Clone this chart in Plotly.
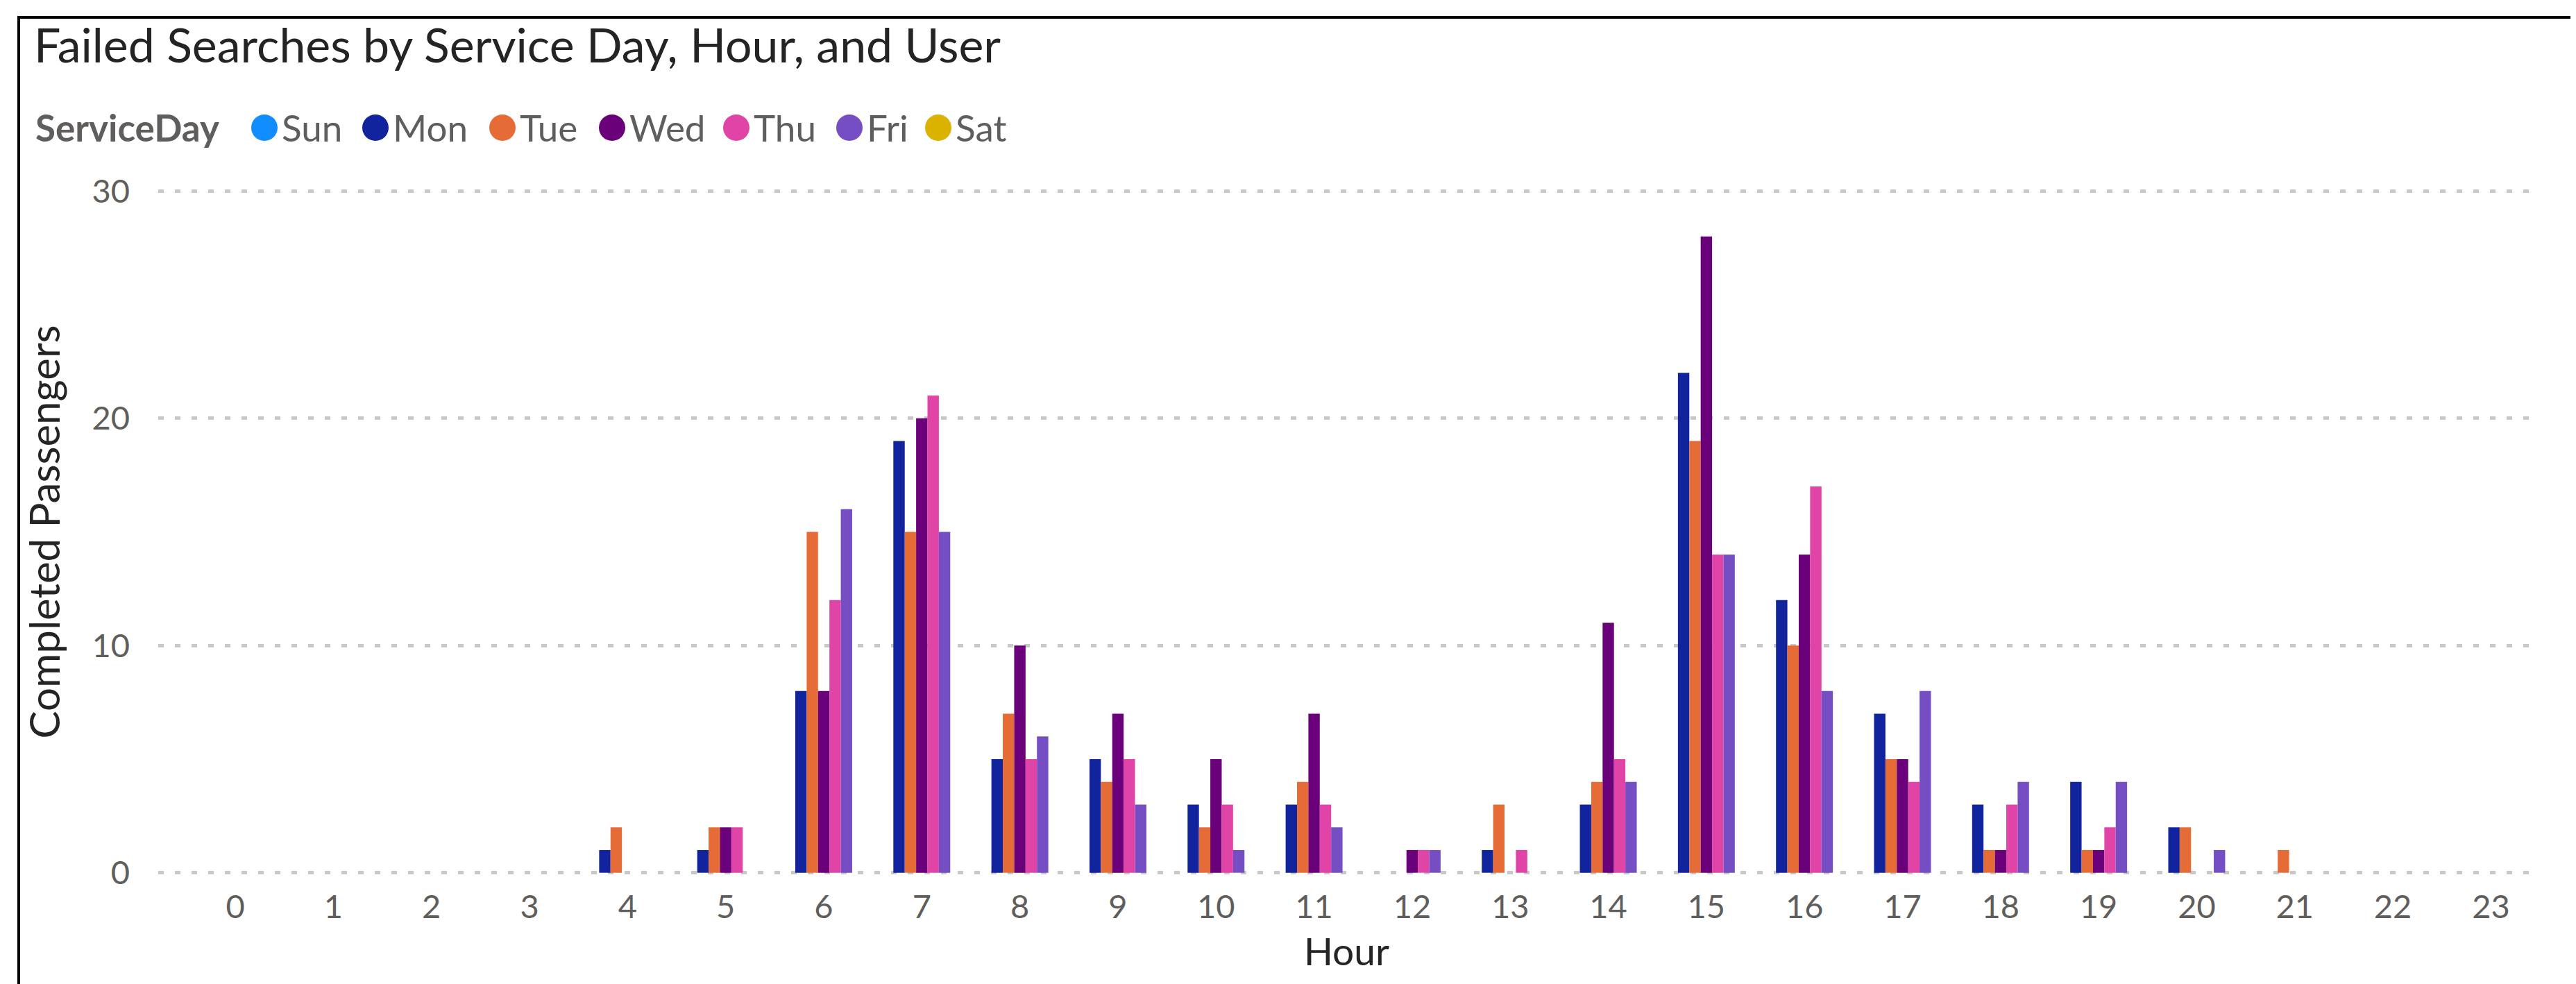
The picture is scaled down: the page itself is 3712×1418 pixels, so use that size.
import plotly.graph_objects as go

# ---------------- data ----------------
hours = [0, 1, 2, 3, 4, 5, 6, 7, 8, 9, 10, 11, 12, 13, 14, 15, 16, 17, 18, 19, 20, 21, 22, 23]
hour_labels = ["0", "1", "2", "3", "4", "5", "6", "7", "8", "9", "10", "11",
               "12", "13", "14", "15", "16", "17", "18", "19", "20", "21", "22", "23"]

legend_days = ["Sun", "Mon", "Tue", "Wed", "Thu", "Fri", "Sat"]
legend_colors = ["#118DFF", "#12239E", "#E66C37", "#6B007B", "#E044A7", "#744EC2", "#D9B300"]

y_ticks = [0, 10, 20, 30]

N = None
mon = [N, N, N, N, 1, 1, 8, 19, 5, 5, 3, 3, N, 1, 3, 22, 12, 7, 3, 4, 2, N, N, N]
tue = [N, N, N, N, 2, 2, 15, 15, 7, 4, 2, 4, N, 3, 4, 19, 10, 5, 1, 1, 2, 1, N, N]
wed = [N, N, N, N, N, 2, 8, 20, 10, 7, 5, 7, 1, N, 11, 28, 14, 5, 1, 1, N, N, N, N]
thu = [N, N, N, N, N, 2, 12, 21, 5, 5, 3, 3, 1, 1, 5, 14, 17, 4, 3, 2, N, N, N, N]
fri = [N, N, N, N, N, N, 16, 15, 6, 3, 1, 2, 1, N, 4, 14, 8, 8, 4, 4, 1, N, N, N]

series = [("Mon", mon), ("Tue", tue), ("Wed", wed), ("Thu", thu), ("Fri", fri)]
color_of = dict(zip(legend_days, legend_colors))

# ---------------- layout geometry (pixels) ----------------
W, H = 3712, 1418
ML, MR, MT, MB = 220, 67, 266, 167
PW, PH = W - ML - MR, H - MT - MB


def px_x(px):
    return (px - ML) / PW


def px_y(py):
    return 1 - (py - MT) / PH


FONT = "Segoe UI, Lato, sans-serif"
GRAY = "#605E5C"
DARK = "#252423"

fig = go.Figure()
for name, vals in series:
    fig.add_trace(go.Bar(
        x=hours, y=vals, name=name,
        marker=dict(color=color_of[name], line=dict(width=0)),
        showlegend=False,
    ))

# ---------------- manual legend (Power BI style) ----------------
legend_centers = [373, 533, 716, 874, 1053, 1216, 1344]
legend_y = 176
shapes = []
annotations = [dict(
    x=px_x(41), y=px_y(legend_y), xref="paper", yref="paper",
    xanchor="left", yanchor="middle", showarrow=False,
    text="<b>ServiceDay</b>", font=dict(family=FONT, size=53, color=GRAY),
)]
for day, col, cx in zip(legend_days, legend_colors, legend_centers):
    shapes.append(dict(
        type="circle", xref="paper", yref="paper",
        xsizemode="pixel", ysizemode="pixel",
        xanchor=px_x(cx), yanchor=px_y(legend_y),
        x0=-19, x1=19, y0=-19, y1=19,
        fillcolor=col, line=dict(width=0),
    ))
    annotations.append(dict(
        x=px_x(cx + 23), y=px_y(legend_y), xref="paper", yref="paper",
        xanchor="left", yanchor="middle", showarrow=False,
        text=day, font=dict(family=FONT, size=53, color=GRAY),
    ))

# frame (top and left edges visible)
shapes.append(dict(type="line", xref="paper", yref="paper",
                   x0=px_x(17), x1=px_x(W + 10), y0=px_y(17), y1=px_y(17),
                   line=dict(color="#000000", width=4)))
shapes.append(dict(type="line", xref="paper", yref="paper",
                   x0=px_x(19), x1=px_x(19), y0=px_y(15), y1=px_y(H + 10),
                   line=dict(color="#000000", width=4)))

fig.update_layout(
    width=W, height=H,
    margin=dict(l=ML, r=MR, t=MT, b=MB, pad=0),
    paper_bgcolor="white", plot_bgcolor="white",
    barmode="group", bargap=0.42, bargroupgap=0,
    title=dict(text="Failed Searches by Service Day, Hour, and User",
               x=41 / W, xref="container", xanchor="left",
               y=1 - 58 / H, yref="container", yanchor="middle",
               font=dict(family=FONT, size=68, color=DARK)),
    font=dict(family=FONT, color=GRAY),
    shapes=shapes, annotations=annotations,
    xaxis=dict(
        range=[-0.786, 23.45], tickmode="array", tickvals=hours, ticktext=hour_labels,
        showgrid=False, zeroline=False, showline=False, ticks="",
        tickfont=dict(family=FONT, size=47, color=GRAY), ticklabelstandoff=16,
        title=dict(text="Hour", font=dict(family=FONT, size=55, color=DARK), standoff=20),
    ),
    yaxis=dict(
        range=[-0.04, 30.04], tickmode="array", tickvals=y_ticks,
        showgrid=True, gridcolor="#C8C8C8", gridwidth=5, griddash="8px,16px",
        zeroline=False, showline=False, ticks="",
        tickfont=dict(family=FONT, size=47, color=GRAY), ticklabelstandoff=40,
        title=dict(text="Completed Passengers", font=dict(family=FONT, size=60, color=DARK), standoff=26),
    ),
)

fig.write_html("out.html")
